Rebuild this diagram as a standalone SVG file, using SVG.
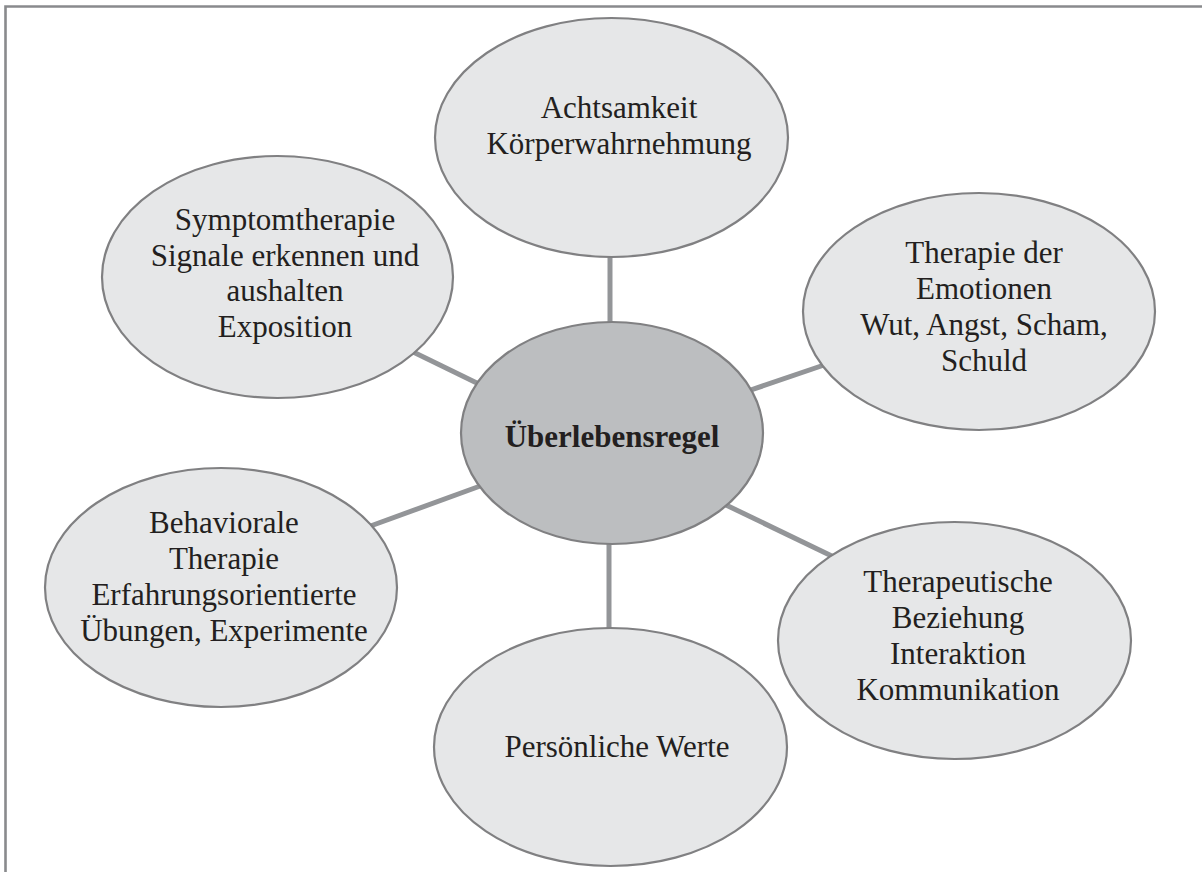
<svg xmlns="http://www.w3.org/2000/svg" width="1202" height="872" viewBox="0 0 1202 872">
<style>
.n{fill:#e6e7e8;stroke:#808082;stroke-width:2.2}
.c{fill:#bcbec0;stroke:#808082;stroke-width:2.2}
.t{font-family:'Liberation Serif',Tinos,'Times New Roman',Times,serif;font-size:31px;fill:#231f20;text-anchor:middle}
.b{font-weight:bold}
.e{stroke:#939598;stroke-width:5;fill:none}
</style>
<rect width="1202" height="872" fill="#fff"/>
<path d="M5.5 872V6.5H1202" fill="none" stroke="#898a8d" stroke-width="2.6"/>
<g id="connectors">
<line class="e" x1="610" y1="250" x2="610" y2="330"/>
<line class="e" x1="609" y1="540" x2="609" y2="635"/>
<line class="e" x1="405" y1="348" x2="485" y2="387"/>
<line class="e" x1="830" y1="363" x2="742" y2="393"/>
<line class="e" x1="365" y1="528" x2="483" y2="485"/>
<line class="e" x1="838" y1="559" x2="726" y2="505"/>
</g>
<g id="n-achtsamkeit">
<ellipse class="n" cx="611.5" cy="137.5" rx="176.5" ry="119.5"/>
<text class="t" x="619" y="118">Achtsamkeit</text>
<text class="t" x="619" y="154">Körperwahrnehmung</text>
</g>
<g id="n-symptom">
<ellipse class="n" cx="277.5" cy="277" rx="175.5" ry="121"/>
<text class="t" x="285" y="230">Symptomtherapie</text>
<text class="t" x="285" y="266">Signale erkennen und</text>
<text class="t" x="285" y="301">aushalten</text>
<text class="t" x="285" y="337">Exposition</text>
</g>
<g id="n-emotionen">
<ellipse class="n" cx="979" cy="311.5" rx="176" ry="118.5"/>
<text class="t" x="984" y="263">Therapie der</text>
<text class="t" x="984" y="299">Emotionen</text>
<text class="t" x="984" y="335">Wut, Angst, Scham,</text>
<text class="t" x="984" y="371">Schuld</text>
</g>
<g id="n-behavioral">
<ellipse class="n" cx="221" cy="587.5" rx="176" ry="119.5"/>
<text class="t" x="224" y="533">Behaviorale</text>
<text class="t" x="224" y="569">Therapie</text>
<text class="t" x="224" y="605">Erfahrungsorientierte</text>
<text class="t" x="224" y="641">Übungen, Experimente</text>
</g>
<g id="n-beziehung">
<ellipse class="n" cx="954.5" cy="640.5" rx="176.5" ry="118.5"/>
<text class="t" x="958" y="592">Therapeutische</text>
<text class="t" x="958" y="628">Beziehung</text>
<text class="t" x="958" y="664">Interaktion</text>
<text class="t" x="958" y="700">Kommunikation</text>
</g>
<g id="n-werte">
<ellipse class="n" cx="610.5" cy="747" rx="176.5" ry="119"/>
<text class="t" x="617" y="757">Persönliche Werte</text>
</g>
<g id="n-center">
<ellipse class="c" cx="612" cy="433" rx="151" ry="111"/>
<text class="t b" x="612" y="447">Überlebensregel</text>
</g>
</svg>
